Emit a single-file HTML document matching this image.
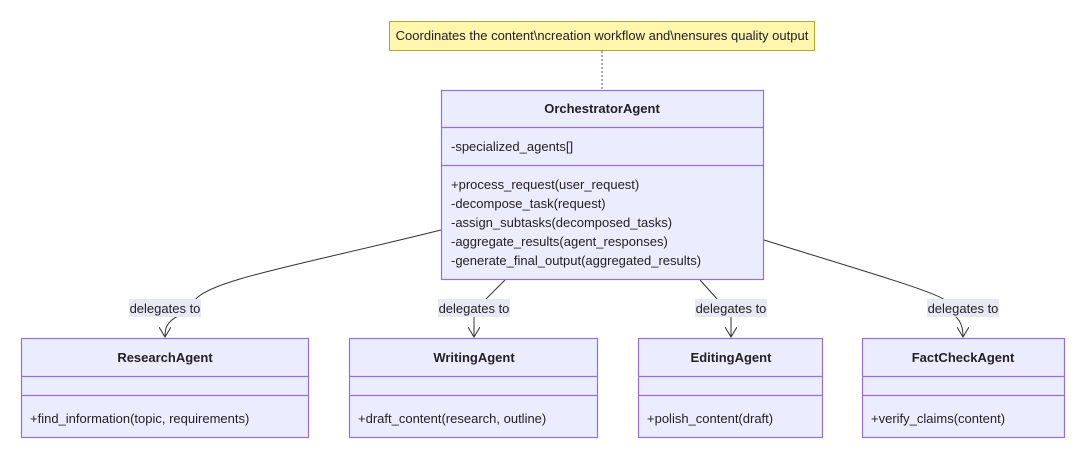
<!DOCTYPE html>
<html><head><meta charset="utf-8"><style>
html,body{margin:0;padding:0;background:#fff;}
svg{display:block;font-family:"Liberation Sans",Arial,sans-serif;}
.b{fill:#ececff;stroke:#9370db;stroke-width:1.2}
.d{stroke:#9370db;stroke-width:1.2}
.t{font-size:13px;fill:#222}
.h{font-size:13px;font-weight:bold;fill:#222}
.e{fill:none;stroke:#333;stroke-width:1}
.lb{fill:#e8e8f5}
</style></head><body>
<svg width="1086" height="459" viewBox="0 0 1086 459">
<defs><marker id="a" markerWidth="12" markerHeight="12" refX="10" refY="6" orient="auto" markerUnits="userSpaceOnUse"><path d="M0,0 L10,6 L0,12" fill="none" stroke="#333" stroke-width="1"/></marker></defs>
<rect x="389.5" y="21.5" width="425" height="29" fill="#fff5ad" stroke="#aaaa33"/>
<text x="602" y="40" text-anchor="middle" class="t">Coordinates the content\ncreation workflow and\nensures quality output</text>
<line x1="602" y1="51" x2="602" y2="90" stroke="#555" stroke-dasharray="2,2"/>
<path class="e" d="M441,230 C300,265 210,280 195,300"/>
<path class="e" d="M180,315 C165,322 165,330 165,337" marker-end="url(#a)"/>
<path class="e" d="M505,280 L485,300"/>
<path class="e" d="M474,316 L474,337" marker-end="url(#a)"/>
<path class="e" d="M700,280 L718,300"/>
<path class="e" d="M731,316 L731,337" marker-end="url(#a)"/>
<path class="e" d="M764,240 C860,270 930,290 945,300"/>
<path class="e" d="M955,316 C962,322 963,330 963,337" marker-end="url(#a)"/>
<rect class="lb" x="129" y="299" width="72" height="18"/><text x="165" y="313" text-anchor="middle" class="t">delegates to</text>
<rect class="lb" x="438" y="299" width="72" height="18"/><text x="474" y="313" text-anchor="middle" class="t">delegates to</text>
<rect class="lb" x="695" y="299" width="72" height="18"/><text x="731" y="313" text-anchor="middle" class="t">delegates to</text>
<rect class="lb" x="927" y="299" width="72" height="18"/><text x="963" y="313" text-anchor="middle" class="t">delegates to</text>
<rect class="b" x="441.5" y="90.5" width="322" height="189"/>
<line class="d" x1="441" y1="127.5" x2="764" y2="127.5"/>
<line class="d" x1="441" y1="165.5" x2="764" y2="165.5"/>
<text x="602" y="113" text-anchor="middle" class="h">OrchestratorAgent</text>
<text x="451" y="151" class="t">-specialized_agents[]</text>
<text x="451" y="189" class="t">+process_request(user_request)</text>
<text x="451" y="208" class="t">-decompose_task(request)</text>
<text x="451" y="227" class="t">-assign_subtasks(decomposed_tasks)</text>
<text x="451" y="246" class="t">-aggregate_results(agent_responses)</text>
<text x="451" y="265" class="t">-generate_final_output(aggregated_results)</text>
<g>
<rect class="b" x="21.5" y="338.5" width="287" height="99"/>
<line class="d" x1="21" y1="376.5" x2="309" y2="376.5"/><line class="d" x1="21" y1="395.5" x2="309" y2="395.5"/>
<text x="165" y="362" text-anchor="middle" class="h">ResearchAgent</text>
<text x="30" y="423" class="t">+find_information(topic, requirements)</text>
</g>
<g>
<rect class="b" x="349.5" y="338.5" width="248" height="99"/>
<line class="d" x1="349" y1="376.5" x2="598" y2="376.5"/><line class="d" x1="349" y1="395.5" x2="598" y2="395.5"/>
<text x="474" y="362" text-anchor="middle" class="h">WritingAgent</text>
<text x="358" y="423" class="t">+draft_content(research, outline)</text>
</g>
<g>
<rect class="b" x="638.5" y="338.5" width="184" height="99"/>
<line class="d" x1="638" y1="376.5" x2="823" y2="376.5"/><line class="d" x1="638" y1="395.5" x2="823" y2="395.5"/>
<text x="731" y="362" text-anchor="middle" class="h">EditingAgent</text>
<text x="647" y="423" class="t">+polish_content(draft)</text>
</g>
<g>
<rect class="b" x="862.5" y="338.5" width="202" height="99"/>
<line class="d" x1="862" y1="376.5" x2="1065" y2="376.5"/><line class="d" x1="862" y1="395.5" x2="1065" y2="395.5"/>
<text x="963" y="362" text-anchor="middle" class="h">FactCheckAgent</text>
<text x="871" y="423" class="t">+verify_claims(content)</text>
</g>
</svg>
</body></html>
